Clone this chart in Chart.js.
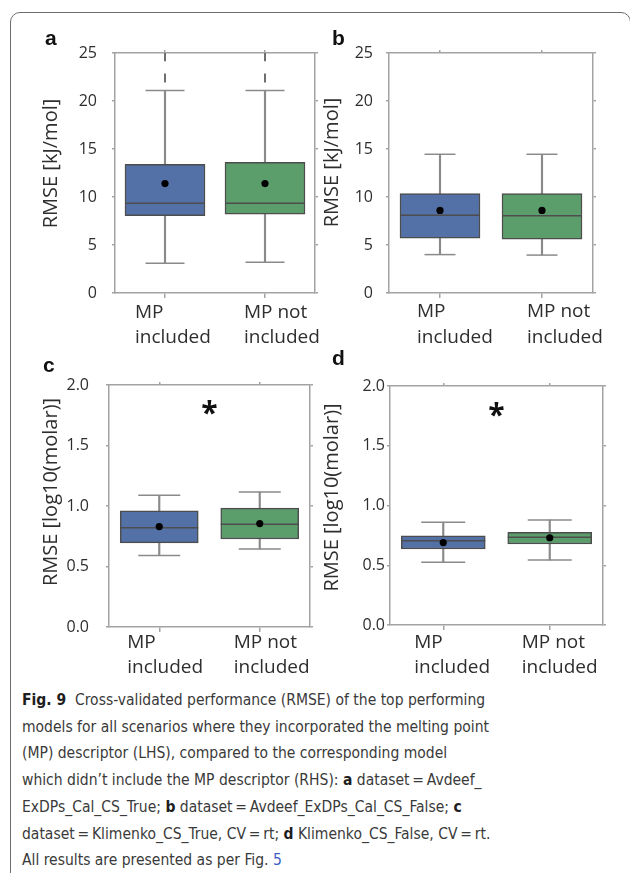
<!DOCTYPE html>
<html>
<head>
<meta charset="utf-8">
<script src="https://cdn.jsdelivr.net/npm/chart.js@4.4.1/dist/chart.umd.min.js"></script>
<style>
  body { margin: 0; width: 630px; height: 873px; background: #fff; position: relative; overflow: hidden; }
  .frame { position: absolute; left: 10px; top: 12px; width: 621px; height: 900px; box-sizing: border-box;
    border: 1.5px solid #6e6e6e; border-radius: 10px 10px 0 0; }
  canvas { position: absolute; }
  .caption { position: absolute; left: 22px; top: 687px; font-family: "DejaVu Sans Condensed", sans-serif;
    font-size: 15.5px; line-height: 26.7px; color: #3a3a3a; white-space: nowrap; }
  .caption b { color: #1e1e1e; }
  .caption .ref { color: #3d5fc4; }
</style>
</head>
<body>
<div class="frame"></div>
<canvas id="pa" width="320" height="350" style="left:0;top:0"></canvas>
<canvas id="pb" width="310" height="350" style="left:320px;top:0"></canvas>
<canvas id="pc" width="320" height="335" style="left:0;top:350px"></canvas>
<canvas id="pd" width="310" height="335" style="left:320px;top:350px"></canvas>
<div class="caption">
  <b>Fig. 9</b>&nbsp; Cross-validated performance (RMSE) of the top performing<br>
  models for all scenarios where they incorporated the melting point<br>
  (MP) descriptor (LHS), compared to the corresponding model<br>
  which didn’t include the MP descriptor (RHS): <b>a</b> dataset&#8201;=&#8201;Avdeef_<br>
  ExDPs_Cal_CS_True; <b>b</b> dataset&#8201;=&#8201;Avdeef_ExDPs_Cal_CS_False; <b>c</b><br>
  dataset&#8201;=&#8201;Klimenko_CS_True, CV&#8201;=&#8201;rt; <b>d</b> Klimenko_CS_False, CV&#8201;=&#8201;rt.<br>
  All results are presented as per Fig. <span class="ref">5</span>
</div>
<script>
const categories = [ [ 'MP', 'included' ], [ 'MP not', 'included' ] ];
const yTicksKJ = [ 0, 5, 10, 15, 20, 25 ];
const yTicksLog = [ 0.0, 0.5, 1.0, 1.5, 2.0 ];

// a: Avdeef_ExDPs_Cal_CS_True
const aLow = [ 3.1, 3.2 ];
const aQ1 = [ 8.05, 8.2 ];
const aMedian = [ 9.35, 9.35 ];
const aQ3 = [ 13.4, 13.6 ];
const aHigh = [ 21.1, 21.1 ];
const aMean = [ 11.4, 11.4 ];
const aOutliers = [ [ 22.4, 24.6 ], [ 22.4, 24.6 ] ];

// b: Avdeef_ExDPs_Cal_CS_False
const bLow = [ 4.0, 3.95 ];
const bQ1 = [ 5.7, 5.6 ];
const bMedian = [ 8.1, 8.05 ];
const bQ3 = [ 10.35, 10.35 ];
const bHigh = [ 14.45, 14.45 ];
const bMean = [ 8.6, 8.6 ];

// c: Klimenko_CS_True, CV = rt
const cLow = [ 0.59, 0.645 ];
const cQ1 = [ 0.695, 0.727 ];
const cMedian = [ 0.82, 0.85 ];
const cQ3 = [ 0.96, 0.983 ];
const cHigh = [ 1.088, 1.116 ];
const cMean = [ 0.83, 0.855 ];

// d: Klimenko_CS_False, CV = rt
const dLow = [ 0.525, 0.544 ];
const dQ1 = [ 0.636, 0.678 ];
const dMedian = [ 0.705, 0.734 ];
const dQ3 = [ 0.747, 0.776 ];
const dHigh = [ 0.86, 0.879 ];
const dMean = [ 0.69, 0.73 ];

const BLUE = '#5471a7';
const GREEN = '#5b9e6c';
const EDGE = '#4d4d4d';
const WHISKER = '#8a8a8a';
const AXIS = '#a3a3a3';
const TEXT = '#2e2e2e';

const panels = [
	{ id: 'pa', W: 320, H: 350, plotLeft: 115, plotRight: 315, plotTop: 53, plotBottom: 293,
		low: aLow, q1: aQ1, median: aMedian, q3: aQ3, high: aHigh, mean: aMean, outliers: aOutliers,
		yTicks: yTicksKJ, decimals: 0, tickPad: 15, boxWidth: 80, capRadius: 19.5,
		letter: 'a', letterX: 45, letterY: 45, title: 'RMSE [kJ/mol]', titleX: 51, titleY: 163.5,
		labelDx: [ -30, -21 ], labelY: 318, labelGap: 25 },
	{ id: 'pb', W: 310, H: 350, plotLeft: 69, plotRight: 273, plotTop: 53, plotBottom: 293,
		low: bLow, q1: bQ1, median: bMedian, q3: bQ3, high: bHigh, mean: bMean,
		yTicks: yTicksKJ, decimals: 0, tickPad: 13, boxWidth: 80, capRadius: 15.5,
		letter: 'b', letterX: 12, letterY: 45, title: 'RMSE [kJ/mol]', titleX: 12.5, titleY: 162.5,
		labelDx: [ -23, -15 ], labelY: 317, labelGap: 26 },
	{ id: 'pc', W: 320, H: 335, plotLeft: 109, plotRight: 310, plotTop: 35, plotBottom: 277,
		low: cLow, q1: cQ1, median: cMedian, q3: cQ3, high: cHigh, mean: cMean, sig: 1.81,
		yTicks: yTicksLog, decimals: 1, tickPad: 17, boxWidth: 78, capRadius: 21,
		letter: 'c', letterX: 43, letterY: 22, title: 'RMSE [log10(molar)]', titleX: 51, titleY: 142,
		labelDx: [ -32, -26 ], labelY: 298, labelGap: 25 },
	{ id: 'pd', W: 310, H: 335, plotLeft: 70, plotRight: 283, plotTop: 36, plotBottom: 275,
		low: dLow, q1: dQ1, median: dMedian, q3: dQ3, high: dHigh, mean: dMean, sig: 1.80,
		yTicks: yTicksLog, decimals: 1, tickPad: 2, boxWidth: 84, capRadius: 22,
		letter: 'd', letterX: 12, letterY: 15, title: 'RMSE [log10(molar)]', titleX: 12.5, titleY: 147.5,
		labelDx: [ -29, -28 ], labelY: 298, labelGap: 25 },
];

// Text drawn by hand: left-aligned two-line category labels, rotated y title,
// panel letter and the significance asterisk.
function textPlugin( p ) {
	return {
		id: 'panelText',
		afterDraw( chart ) {
			const { ctx, scales: { x, y } } = chart;
			ctx.save();
			ctx.fillStyle = TEXT;
			ctx.textAlign = 'left';
			ctx.textBaseline = 'alphabetic';

			ctx.font = 'bold 21px "Liberation Sans"';
			ctx.fillStyle = '#111';
			ctx.fillText( p.letter, p.letterX, p.letterY );

			ctx.fillStyle = TEXT;
			ctx.font = '19px "Open Sans"';
			chart.data.labels.forEach( ( lines, i ) => {
				const px = x.getPixelForValue( i ) + p.labelDx[ i ];
				lines.forEach( ( line, j ) => ctx.fillText( line, px, p.labelY + j * p.labelGap ) );
			} );

			if ( p.sig !== undefined ) {
				ctx.font = 'bold 30px "Open Sans"';
				ctx.fillStyle = '#111';
				ctx.textAlign = 'center';
				const m = ctx.measureText( '*' );
				const cx = ( x.getPixelForValue( 0 ) + x.getPixelForValue( 1 ) ) / 2;
				const cy = y.getPixelForValue( p.sig );
				ctx.fillText( '*', cx, cy + ( m.actualBoundingBoxAscent - m.actualBoundingBoxDescent ) / 2 );
			}

			ctx.fillStyle = TEXT;
			ctx.translate( p.titleX, p.titleY );
			ctx.rotate( -Math.PI / 2 );
			ctx.textAlign = 'center';
			ctx.textBaseline = 'middle';
			ctx.font = '20px "Open Sans"';
			ctx.fillText( p.title, 0, 0 );
			ctx.restore();
		},
	};
}

const marks = ( data, radius, color, order ) => ( {
	type: 'line', data, showLine: false, pointStyle: 'line', pointRadius: radius,
	pointBorderColor: color, pointBorderWidth: 1.5, order,
} );

function datasets( p ) {
	const list = [
		{ type: 'bar', data: p.low.map( ( v, i ) => [ v, p.high[ i ] ] ), backgroundColor: WHISKER,
			barThickness: 1.5, grouped: false, order: 5 },
		{ type: 'bar', data: p.q1.map( ( v, i ) => [ v, p.q3[ i ] ] ), backgroundColor: [ BLUE, GREEN ],
			borderColor: EDGE, borderWidth: 1.5, borderSkipped: false, barThickness: p.boxWidth, grouped: false, order: 4 },
		marks( p.low, p.capRadius, WHISKER, 3 ),
		marks( p.high, p.capRadius, WHISKER, 3 ),
		marks( p.median, p.boxWidth / 2, EDGE, 2 ),
		{ type: 'line', data: p.mean, showLine: false, pointStyle: 'circle', pointRadius: 3.6,
			pointBackgroundColor: '#000', pointBorderColor: '#000', pointBorderWidth: 0, order: 1 },
	];
	if ( p.outliers ) {
		const pts = [];
		p.outliers.forEach( ( vals, i ) => vals.forEach( ( v ) => pts.push( { x: categories[ i ], y: v } ) ) );
		list.push( { type: 'line', data: pts, showLine: false, pointStyle: 'line', rotation: 90, pointRadius: 4.5,
			pointBorderColor: '#6f6f6f', pointBorderWidth: 2, order: 1 } );
	}
	return list;
}

function frameGrid( tickLength ) {
	return { display: true, offset: false, drawOnChartArea: false, drawTicks: true, tickLength, color: AXIS, lineWidth: 1.5 };
}

function render( p ) {
	const lo = p.yTicks[ 0 ];
	const hi = p.yTicks[ p.yTicks.length - 1 ];
	const setTicks = ( s ) => { s.ticks = p.yTicks.map( ( v ) => ( { value: v } ) ); };
	const border = { color: AXIS, width: 1.5 };
	new Chart( document.getElementById( p.id ), {
		data: { labels: categories, datasets: datasets( p ) },
		plugins: [ textPlugin( p ) ],
		options: {
			responsive: false,
			animation: false,
			events: [],
			layout: { padding: 0, autoPadding: false },
			plugins: { legend: { display: false }, tooltip: { enabled: false } },
			scales: {
				x: { type: 'category', offset: true, grid: frameGrid( 5 ), border, ticks: { display: false },
					afterFit: ( s ) => { s.height = p.H - p.plotBottom; } },
				x2: { type: 'category', position: 'top', offset: true, grid: frameGrid( 3 ), border, ticks: { display: false },
					afterFit: ( s ) => { s.height = p.plotTop; } },
				y: { type: 'linear', min: lo, max: hi, afterBuildTicks: setTicks, grid: frameGrid( 3 ), border,
					ticks: { padding: p.tickPad, color: TEXT, font: { family: 'Open Sans', size: 16 },
						callback: ( v ) => Number( v ).toFixed( p.decimals ) },
					afterFit: ( s ) => { s.width = p.plotLeft; } },
				y2: { type: 'linear', position: 'right', min: lo, max: hi, afterBuildTicks: setTicks, grid: frameGrid( 3 ), border,
					ticks: { display: false },
					afterFit: ( s ) => { s.width = p.W - p.plotRight; } },
			},
		},
	} );
}

panels.forEach( render );
</script>
</body>
</html>
